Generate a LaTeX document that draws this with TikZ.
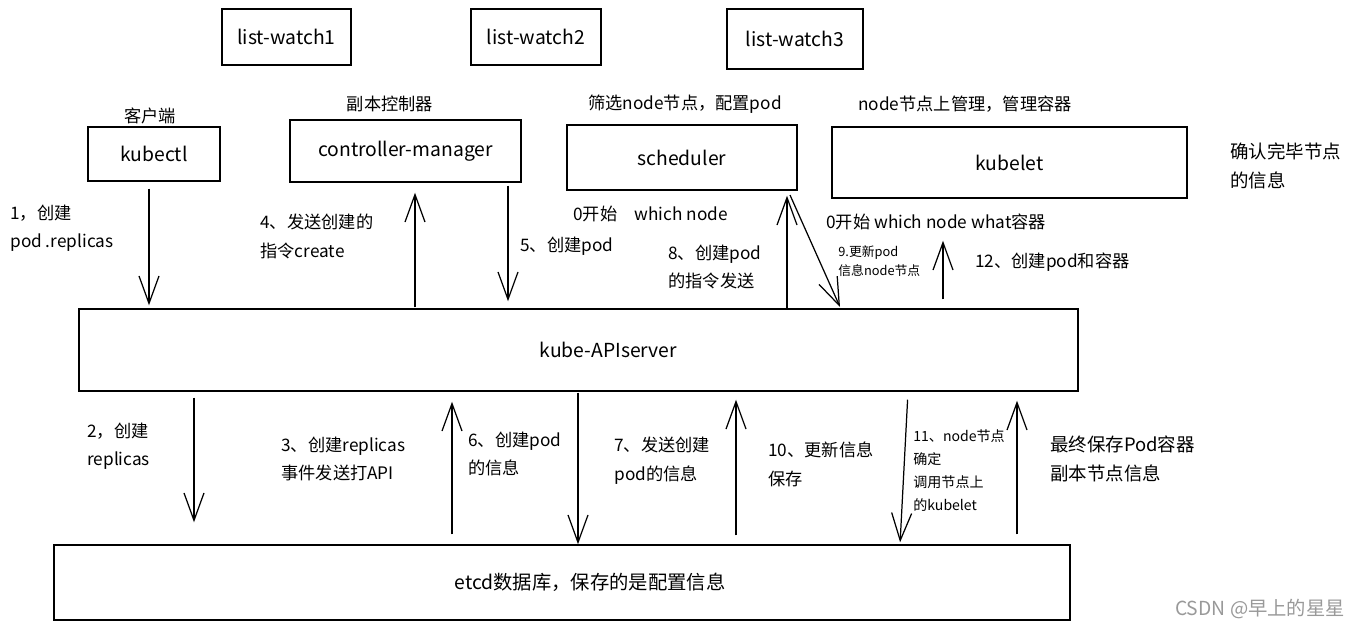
\documentclass[tikz,border=0pt]{standalone}
\usepackage{fontspec}
\setmainfont{Noto Sans CJK SC}
\usetikzlibrary{arrows.meta}

\begin{document}
\begin{tikzpicture}[x=0.02cm,y=-0.02cm,
                every path/.style={>={Straight Barb[length=5.5mm,width=4mm]}},
                box/.style={draw,line width=0.85pt,inner sep=0pt,font=\fontsize{11}{13}\selectfont},
                txt/.style={inner sep=0pt,align=left,font=\fontsize{9.8}{16}\selectfont},
                small/.style={inner sep=0pt,align=left,font=\fontsize{7.3}{10.8}\selectfont},
                flow/.style={->,line width=0.7pt}]
  \useasboundingbox (0,0) rectangle (1361,629);
  % boxes
  \node[box,minimum width=2.58cm,minimum height=1.12cm] (lw1) at (286.5,37) {list-watch1};
  \node[box,minimum width=2.6cm,minimum height=1.12cm]  (lw2) at (536,37) {list-watch2};
  \node[box,minimum width=2.72cm,minimum height=1.2cm]  (lw3) at (795,39) {list-watch3};
  \node[box,minimum width=2.64cm,minimum height=1.08cm] (kubectl) at (154,154) {kubectl};
  \node[box,minimum width=4.62cm,minimum height=1.24cm] (ctrl) at (405.5,151) {controller-manager};
  \node[box,minimum width=4.6cm,minimum height=1.3cm]   (sched) at (682,157.5) {scheduler};
  \node[box,minimum width=7.1cm,minimum height=1.42cm]  (kubelet) at (1009.5,162.5) {kubelet};
  \node[box,minimum width=19.98cm,minimum height=1.64cm] (api) at (578.5,350) {\hspace*{1.2cm}kube-APIserver};
  \node[box,minimum width=20.32cm,minimum height=1.5cm]  (etcd) at (562,582.5) {\hspace*{1.12cm}etcd数据库，保存的是配置信息};

  % titles
  \node[txt] (tkubectl) at (150,116) {客户端};
  \node[txt] (tctrl) at (390,104) {副本控制器};
  \node[txt] (tsched) at (685,104) {筛选node节点，配置pod};
  \node[txt] (tkubelet) at (965,104) {node节点上管理，管理容器};
  \node[txt,anchor=north west,font=\fontsize{10.5}{16.5}\selectfont] (tdone) at (1230,142) {确认完毕节点\\的信息};
  \node[txt,anchor=west] (tstart1) at (573,214) {0开始\quad{}which node};
  \node[txt,anchor=west] (tstart2) at (826,222) {0开始 which node what容器};

  % x positions of the arrows
  \coordinate (x1) at (149,0);
  \coordinate (x4) at (415,0);
  \coordinate (x5) at (508,0);
  \coordinate (x8) at (787,0);
  \coordinate (x9a) at (790,195);
  \coordinate (x9b) at (840,307);
  \coordinate (x12) at (943,0);
  \coordinate (y2) at (194,0);
  \coordinate (y3) at (452,0);
  \coordinate (y6) at (578,0);
  \coordinate (y7) at (736,0);
  \coordinate (y11a) at (908,0);
  \coordinate (y11b) at (900,0);
  \coordinate (y12) at (1017,0);

  % upper arrows
  \draw[flow,shorten <=0.14cm,shorten >=0.06cm] (kubectl.south -| x1) -- (api.north -| x1);
  \draw[flow,shorten <=0.02cm,shorten >=0.2cm] (api.north -| x4) -- (ctrl.south -| x4);
  \draw[flow,shorten <=0.06cm,shorten >=0.14cm] (ctrl.south -| x5) -- (api.north -| x5);
  \draw[flow,shorten >=0.1cm] (api.north -| x8) -- (sched.south -| x8);
  \draw[flow] (x9a) -- (x9b);
  \draw[flow,shorten <=0.18cm,shorten >=0.84cm] (api.north -| x12) -- (kubelet.south -| x12);

  \node[txt,anchor=north west] (l1) at (10,205) {1，创建\\pod .replicas};
  \node[txt,anchor=north west] (l4) at (260,214) {4、发送创建的\\指令create};
  \node[txt,anchor=west] (l5) at (520,246) {5、创建pod};
  \node[txt,anchor=north west] (l8) at (668,245) {8、创建pod\\的指令发送};
  \node[small,anchor=north west] (l9) at (838,245) {9.更新pod\\信息node节点};
  \node[txt,anchor=west] (l12) at (975,262) {12、创建pod和容器};

  % lower arrows
  \draw[flow,shorten <=0.12cm,shorten >=0.44cm] (api.south -| y2) -- (etcd.north -| y2);
  \draw[flow,shorten <=0.2cm,shorten >=0.2cm] (etcd.north -| y3) -- (api.south -| y3);
  \draw[flow,shorten <=0.02cm] (api.south -| y6) -- (etcd.north -| y6);
  \draw[flow,shorten <=0.18cm,shorten >=0.16cm] (etcd.north -| y7) -- (api.south -| y7);
  \draw[flow,shorten <=0.16cm,shorten >=0.04cm] (api.south -| y11a) -- (etcd.north -| y11b);
  \draw[flow,shorten <=0.2cm,shorten >=0.18cm] (etcd.north -| y12) -- (api.south -| y12);

  \node[txt,anchor=north west] (l2) at (87,423) {2，创建\\replicas};
  \node[txt,anchor=north west] (l3) at (281,437) {3、创建replicas\\事件发送打API};
  \node[txt,anchor=north west] (l6) at (468,432) {6、创建pod\\的信息};
  \node[txt,anchor=north west] (l7) at (614,437) {7、发送创建\\pod的信息};
  \node[txt,anchor=north west] (l10) at (768,442) {10、更新信息\\保存};
  \node[small,anchor=north west,font=\fontsize{8}{13.2}\selectfont] (l11) at (913,429) {11、node节点\\确定\\调用节点上\\的kubelet};
  \node[txt,anchor=north west,font=\fontsize{10.5}{16}\selectfont] (lfinal) at (1050,436) {最终保存Pod容器\\副本节点信息};

  \node[txt,text=black!40,font=\fontsize{11}{13}\selectfont] (mark) at (1260,609) {CSDN @早上的星星};
\end{tikzpicture}
\end{document}
